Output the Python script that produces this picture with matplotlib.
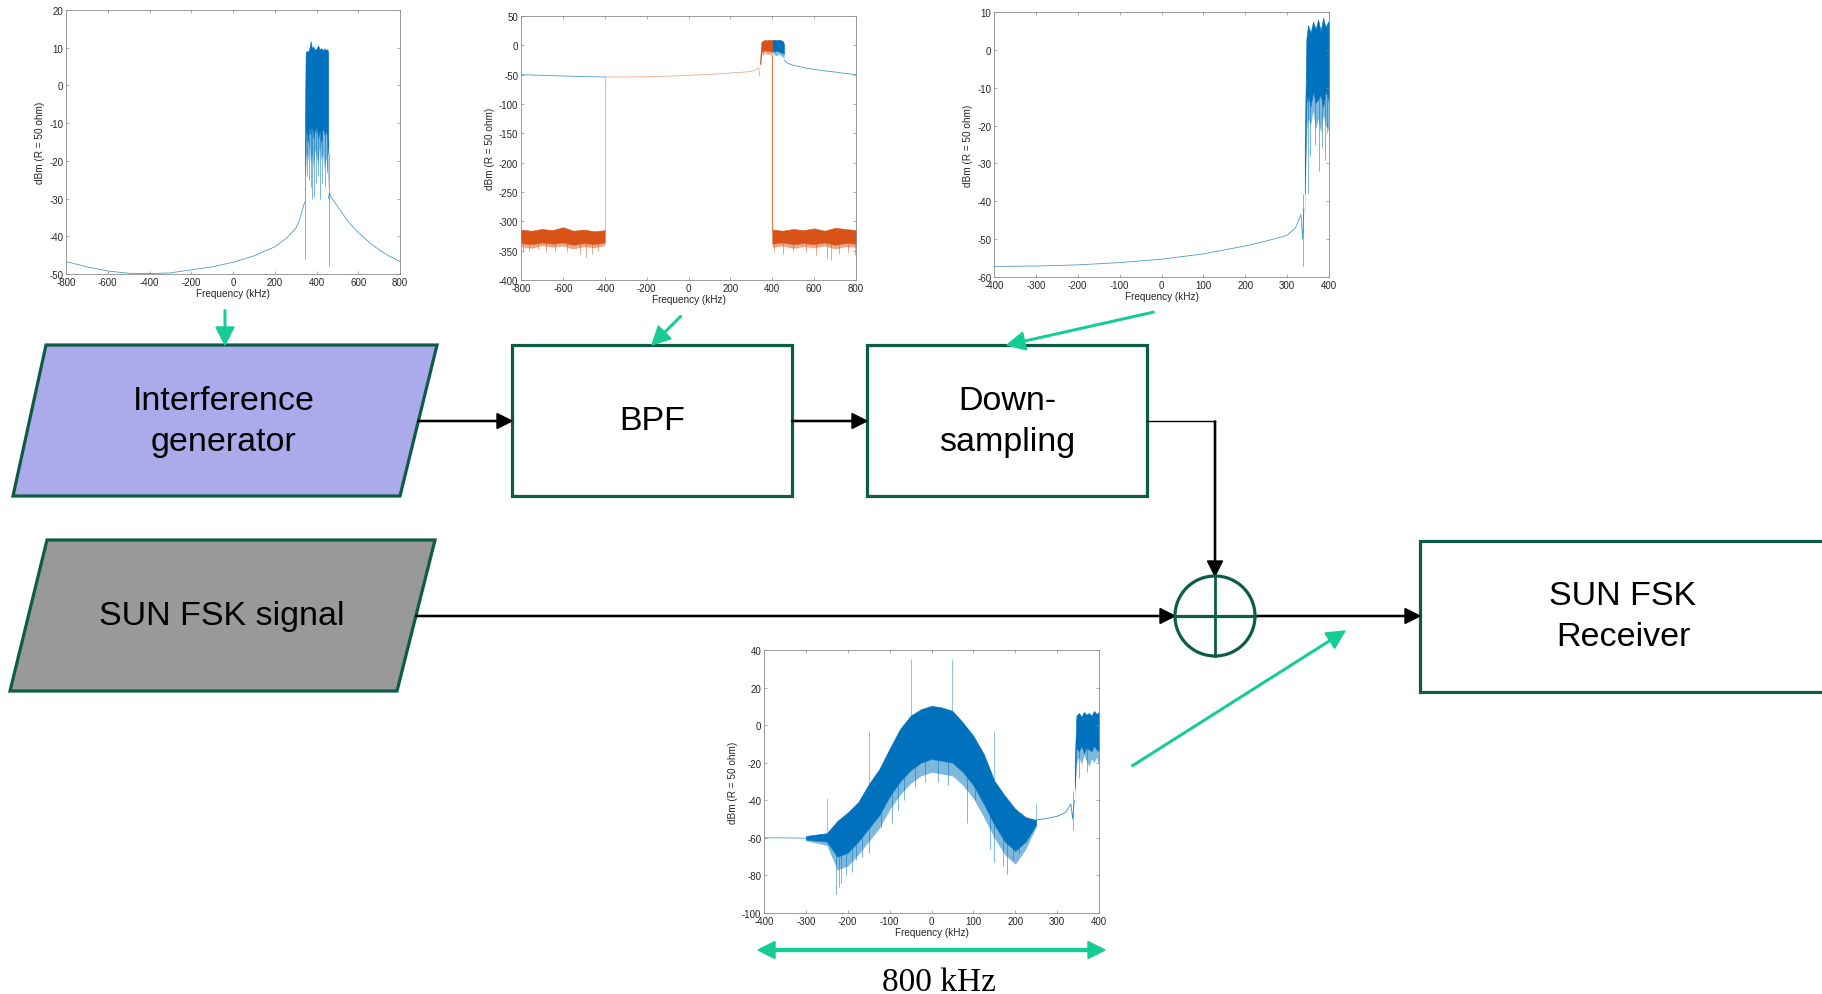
import numpy as np
import matplotlib.pyplot as plt
from matplotlib.patches import Polygon, Rectangle, Circle

W, H = 1822, 995
BLUE = '#0072BD'
ORANGE = '#D95319'
BOX = '#0D5C46'
MINT = '#14CC96'

plt.rcParams['font.family'] = ['Liberation Sans', 'DejaVu Sans']
plt.rcParams['axes.unicode_minus'] = False

# --- interference generator output (kHz / dBm) ---
p1_left_f = [-800, -700, -600, -500, -400, -300, -200, -100, 0, 100, 200, 250, 300, 320, 335, 343]
p1_left_db = [-46.7, -48.1, -49.2, -49.8, -49.9, -49.7, -48.9, -48.1, -46.9, -45.2, -42.8, -40.8, -38.0, -35.5, -32.5, -31.0]
p1_right_f = [457, 462, 470, 500, 550, 600, 650, 700, 750, 800]
p1_right_db = [-30.0, -28.5, -29.7, -32.0, -36.0, -39.0, -41.5, -43.6, -45.3, -46.7]
p1_band_f = [345, 348, 352, 358, 365, 372, 378, 385, 392, 400, 408, 415, 422, 430, 438, 445, 452, 456]
p1_band_hi = [-8, 8.5, 9.2, 8.8, 9.6, 11.7, 9.9, 10.3, 9.4, 9.8, 10.6, 9.5, 9.9, 9.3, 9.8, 9.4, 9.6, 8.8]
p1_band_mid = [-24, -14, -12, -15, -11, -13, -10, -14, -12, -11, -14, -12, -15, -11, -13, -12, -14, -18]
p1_band_lo = [-32, -22, -18, -20, -16, -21, -18, -22, -17, -19, -21, -16, -20, -18, -22, -19, -23, -28]
p1_dip_f = [344, 356, 363, 374, 379, 388, 397, 406, 418, 427, 441, 449, 458]
p1_dip_db = [-46, -24, -25, -27, -30, -29.5, -26, -24, -30, -26, -27, -23, -48]

# --- after band-pass filter ---
p2_blue_f = [-800, -700, -600, -500, -400]
p2_blue_db = [-50, -51.2, -52.3, -53.2, -54]
p2_tail_f = [458, 470, 500, 550, 600, 650, 700, 750, 800]
p2_tail_db = [-25, -30, -34, -38, -41, -43.5, -45.5, -48, -50]
p2_bband_f = [400, 410, 420, 430, 440, 450, 456]
p2_bband_hi = [9, 9.5, 8.5, 9.8, 8.7, 7.5, 2]
p2_bband_mid = [-8, -11, -9, -10, -12, -13, -15]
p2_bband_lo = [-12, -16, -18, -14, -17, -20, -22]
p2_orange_f = [-400, -300, -200, -100, 0, 100, 200, 250, 300, 320, 335, 340]
p2_orange_db = [-54, -54, -53.5, -52.5, -51.2, -49.5, -47.2, -46, -44.5, -42, -38, -52]
p2_oband_f = [343, 348, 355, 365, 375, 385, 395, 400]
p2_oband_hi = [-20, 5, 8, 9, 8.5, 9.5, 8.8, 9]
p2_oband_mid = [-32, -9, -11, -8, -10, -9, -11, -10]
p2_oband_lo = [-42, -14, -17, -12, -16, -14, -17, -16]
p2_noise_lf = [-800, -750, -700, -650, -600, -550, -500, -450, -400]
p2_noise_lhi = [-314, -316, -313, -315, -310, -316, -314, -317, -315]
p2_noise_lmid = [-337, -339, -336, -338, -336, -340, -337, -339, -336]
p2_noise_llo = [-343, -346, -341, -344, -342, -347, -343, -345, -341]
p2_noise_rf = [400, 450, 500, 550, 600, 650, 700, 750, 800]
p2_noise_rhi = [-314, -316, -313, -315, -312, -316, -311, -313, -315]
p2_noise_rmid = [-338, -336, -339, -337, -339, -336, -340, -337, -338]
p2_noise_rlo = [-344, -342, -346, -343, -345, -342, -347, -343, -344]
p2_dip_f = [-790, -760, -720, -680, -640, -580, -520, -490, -460, -430,
            410, 450, 500, 560, 610, 660, 680, 720, 760, 795]
p2_dip_db = [-352, -350, -348, -352, -350, -353, -355, -361, -356, -350,
             -352, -355, -350, -352, -357, -362, -366, -355, -353, -358]

# --- after down-sampling ---
p3_f = [-400, -300, -200, -100, 0, 100, 200, 250, 300, 320, 333, 337, 340]
p3_db = [-57.2, -57.1, -56.8, -56.2, -55.3, -53.9, -51.8, -50.5, -49.0, -47.0, -43.5, -50, -42]
p3_band_f = [342, 346, 350, 356, 362, 368, 374, 380, 386, 392, 398, 400]
p3_band_hi = [-25, 3, 6.5, 4.5, 7.5, 5.5, 8.0, 5.0, 8.5, 6.0, 7.5, 6.0]
p3_band_mid = [-38, -14, -12, -15, -11, -14, -13, -12, -15, -11, -13, -14]
p3_band_lo = [-45, -22, -18, -20, -16, -21, -18, -22, -17, -20, -21, -24]
p3_dip_f = [338, 349, 355, 366, 375, 383, 390, 396, 399]
p3_dip_db = [-57, -38, -28, -25, -32, -26, -29, -22, -33]

# --- combined signal at receiver input ---
p4_flat_f = [-400, -350, -300]
p4_flat_db = [-60, -60, -60.2]
p4_band_f = [-300, -250, -225, -200, -175, -150, -125, -100, -75, -50, -25, 0,
             25, 50, 75, 100, 125, 150, 175, 200, 225, 250]
p4_band_hi = [-59, -57.5, -51, -46.5, -41, -31.5, -23.5, -12.5, -2, 5, 8.5, 10.3,
              9.4, 7.6, 1.4, -5.7, -15.4, -29.6, -37.5, -44.6, -49, -50.5]
p4_band_mid = [-61, -62, -70, -68, -62, -55, -48, -38, -30, -24, -20, -18,
               -19, -20, -25, -32, -42, -53, -62, -67, -62, -53]
p4_band_lo = [-61.5, -64, -77, -75, -69, -62, -55, -45, -37, -31, -27, -25,
              -26, -27, -32, -39, -49, -60, -69, -74, -66, -54]
p4_mid_f = [250, 280, 300, 320, 333, 337, 341]
p4_mid_db = [-50.5, -49.5, -48.5, -46.5, -42, -50, -40]
p4_rband_f = [342, 346, 352, 358, 364, 370, 376, 382, 388, 394, 400]
p4_rband_hi = [-20, 5, 6.5, 4.5, 7, 5.5, 6.5, 5, 7.5, 6, 7]
p4_rband_mid = [-34, -12, -14, -11, -15, -12, -13, -14, -11, -13, -14]
p4_rband_lo = [-40, -20, -17, -21, -16, -19, -22, -18, -20, -17, -22]
p4_dip_f = [-228, -222, -215, -205, -190, -180, -165, -150, -120, -95, -80, -65,
            -40, -15, 15, 40, 85, 105, 140, 150, 170, 180, 195, 210, 338, 352, 372, 399]
p4_dip_db = [-90, -86, -84, -80, -78, -72, -70, -68, -55, -52, -45, -40,
             -33, -30, -30, -32, -52, -40, -66, -73, -75, -79, -72, -68, -56, -28, -25, -33]
p4_tone_f = [-250, -150, -50, 50, 150, 250]
p4_tone_db = [-39, -3, 35, 35, -3, -42]


def spec_axes(fig, left, top, right, bottom, xlim, ylim, xstep, ystep):
    ax = fig.add_axes([left / W, 1 - bottom / H, (right - left) / W, (bottom - top) / H])
    ax.set_xlim(*xlim)
    ax.set_ylim(*ylim)
    ax.set_xticks(np.arange(xlim[0], xlim[1] + 1, xstep))
    ax.set_yticks(np.arange(ylim[0], ylim[1] + 1, ystep))
    ax.tick_params(direction='in', top=True, right=True, length=2.5, width=0.5,
                   labelsize=7, colors='#8C8C8C', labelcolor='#262626', pad=2)
    for s in ax.spines.values():
        s.set_color('#8C8C8C')
        s.set_linewidth(0.6)
    ax.set_xlabel('Frequency (kHz)', fontsize=7.2, color='#262626', labelpad=1)
    ax.set_ylabel('dBm (R = 50 ohm)', fontsize=7.2, color='#262626', labelpad=3)
    return ax


def band(ax, f, hi, mid, lo, color):
    ax.fill_between(f, mid, hi, color=color, lw=0.4)
    ax.fill_between(f, lo, mid, color=color, alpha=0.5, lw=0)


def dips(ax, f, db, band_f, band_mid, color):
    top = np.interp(f, band_f, band_mid)
    ax.vlines(f, db, top, color=color, lw=0.6, alpha=0.6)


fig = plt.figure(figsize=(W / 100, H / 100), dpi=100)

# block diagram drawn in pixel units
dg = fig.add_axes([0, 0, 1, 1])
dg.set_xlim(0, W)
dg.set_ylim(H, 0)
dg.axis('off')

dg.add_patch(Polygon([(46, 346), (437, 346), (400, 497), (13, 497)], closed=True,
                     fc='#ABABEB', ec=BOX, lw=2.3))
dg.add_patch(Polygon([(47, 541), (435, 541), (397, 692), (10, 692)], closed=True,
                     fc='#999999', ec=BOX, lw=2.3))
dg.add_patch(Rectangle((512, 346), 280, 151, fc='white', ec=BOX, lw=2.3))
dg.add_patch(Rectangle((867, 346), 280, 151, fc='white', ec=BOX, lw=2.3))
dg.add_patch(Rectangle((1420, 542), 420, 151, fc='white', ec=BOX, lw=2.3))

blk = dict(width=1.2, head_width=15, head_length=15, length_includes_head=True,
           color='black')
dg.arrow(418, 422, 94, 0, **blk)
dg.arrow(792, 422, 75, 0, **blk)
dg.plot([1147, 1215], [422, 422], color='black', lw=1.0)
dg.arrow(1215, 422, 0, 155, **blk)
dg.arrow(416, 617, 759, 0, **blk)
dg.arrow(1255, 617, 165, 0, **blk)

dg.add_patch(Circle((1215, 617), 40, fc='white', ec=BOX, lw=2.3))
dg.plot([1215, 1215], [577, 657], color=BOX, lw=2.0)
dg.plot([1175, 1255], [617, 617], color=BOX, lw=2.3)

grn = dict(width=1.6, head_width=18, head_length=18, length_includes_head=True,
           color=MINT)
for (x0, y0), (x1, y1) in [((225, 311), (225, 346)), ((681, 317), (652, 346)),
                           ((1154, 313), (1007, 346)), ((1132, 767), (1345, 632))]:
    dg.arrow(x0, y0, x1 - x0, y1 - y0, **grn)

span = dict(width=3, head_width=17, head_length=17, length_includes_head=True,
            color=MINT)
dg.arrow(931, 951, -173, 0, **span)
dg.arrow(931, 951, 174, 0, **span)
dg.text(939, 991, '800 kHz', family=['Liberation Serif', 'DejaVu Serif'],
        fontsize=24, ha='center', va='baseline')

txt = dict(fontsize=24.5, ha='center', va='center', linespacing=1.38)
dg.text(224, 422, 'Interference\ngenerator', **txt)
dg.text(652, 422, 'BPF', **txt)
dg.text(1007, 422, 'Down-\nsampling', **txt)
dg.text(222, 617, 'SUN FSK signal', **txt)
dg.text(1623, 617, 'SUN FSK\nReceiver', **txt)

# spectrum 1
ax1 = spec_axes(fig, 66, 11, 400, 275, (-800, 800), (-50, 20), 200, 10)
ax1.plot(p1_left_f, p1_left_db, color=BLUE, lw=0.6, alpha=0.7)
ax1.plot(p1_right_f, p1_right_db, color=BLUE, lw=0.6, alpha=0.7)
band(ax1, p1_band_f, p1_band_hi, p1_band_mid, p1_band_lo, BLUE)
dips(ax1, p1_dip_f, p1_dip_db, p1_band_f, p1_band_mid, BLUE)

# spectrum 2
ax2 = spec_axes(fig, 521, 17, 856, 281, (-800, 800), (-400, 50), 200, 50)
ax2.plot(p2_blue_f, p2_blue_db, color=BLUE, lw=0.6, alpha=0.7)
ax2.plot(p2_tail_f, p2_tail_db, color=BLUE, lw=0.6, alpha=0.7)
band(ax2, p2_bband_f, p2_bband_hi, p2_bband_mid, p2_bband_lo, BLUE)
ax2.plot(p2_orange_f, p2_orange_db, color=ORANGE, lw=0.6, alpha=0.5)
band(ax2, p2_oband_f, p2_oband_hi, p2_oband_mid, p2_oband_lo, ORANGE)
ax2.vlines([-400], p2_noise_lhi[-1], p2_orange_db[0], color=ORANGE, lw=0.8, alpha=0.4)
ax2.vlines([400], p2_noise_rhi[0], p2_oband_lo[-1], color=ORANGE, lw=0.8, alpha=0.8)
band(ax2, p2_noise_lf, p2_noise_lhi, p2_noise_lmid, p2_noise_llo, ORANGE)
band(ax2, p2_noise_rf, p2_noise_rhi, p2_noise_rmid, p2_noise_rlo, ORANGE)
dips(ax2, p2_dip_f, p2_dip_db, p2_noise_lf + p2_noise_rf,
     p2_noise_lmid + p2_noise_rmid, ORANGE)

# spectrum 3
ax3 = spec_axes(fig, 994, 13, 1329, 278, (-400, 400), (-60, 10), 100, 10)
ax3.plot(p3_f, p3_db, color=BLUE, lw=0.6, alpha=0.7)
band(ax3, p3_band_f, p3_band_hi, p3_band_mid, p3_band_lo, BLUE)
dips(ax3, p3_dip_f, p3_dip_db, p3_band_f, p3_band_mid, BLUE)

# spectrum 4
ax4 = spec_axes(fig, 764, 651, 1099, 914, (-400, 400), (-100, 40), 100, 20)
ax4.plot(p4_flat_f, p4_flat_db, color=BLUE, lw=0.6, alpha=0.7)
band(ax4, p4_band_f, p4_band_hi, p4_band_mid, p4_band_lo, BLUE)
ax4.plot(p4_mid_f, p4_mid_db, color=BLUE, lw=0.6, alpha=0.8)
band(ax4, p4_rband_f, p4_rband_hi, p4_rband_mid, p4_rband_lo, BLUE)
dips(ax4, p4_dip_f, p4_dip_db, p4_band_f + p4_rband_f, p4_band_mid + p4_rband_mid, BLUE)
tone_base = np.interp(p4_tone_f, p4_band_f, p4_band_hi)
ax4.vlines(p4_tone_f, tone_base, p4_tone_db, color=BLUE, lw=0.6, alpha=0.5)

fig.savefig('out.png', dpi=100)
